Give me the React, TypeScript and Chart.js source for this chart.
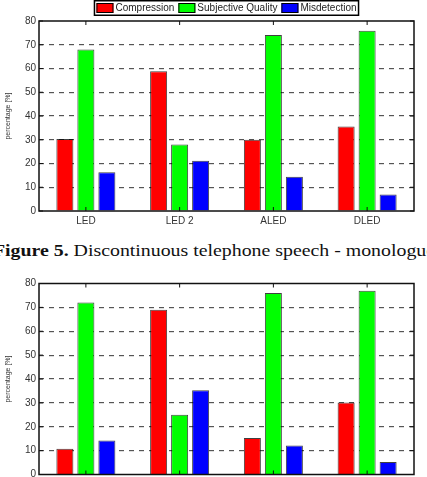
import React, { useEffect, useRef } from "react";
import { Chart, registerables } from "chart.js";

Chart.register(...registerables);

const categories = ["LED", "LED 2", "ALED", "DLED"];
const seriesNames = ["Compression", "Subjective Quality", "Misdetection"];
const seriesColors = ["#ff0000", "#00ff00", "#0000ff"];

const topCompression = [30.3, 58.8, 30.0, 35.6];
const topQuality = [68, 28, 74.1, 75.9];
const topMisdetection = [16.3, 21.2, 14.4, 7.0];

const bottomCompression = [10.8, 69, 15.3, 30.2];
const bottomQuality = [72, 25, 76, 77];
const bottomMisdetection = [14.2, 35.3, 12.1, 5.2];

const yTicks = [0, 10, 20, 30, 40, 50, 60, 70, 80];
const yTitle = "percentage [%]";
const captionBold = "Figure 5.";
const captionText = " Discontinuous telephone speech - monologue";

const framePlugin = {
  id: "frame",
  afterDatasetsDraw(chart: any) {
    const { ctx, chartArea: a, scales } = chart;
    ctx.save();
    ctx.strokeStyle = "#111";
    ctx.lineWidth = 1.5;
    ctx.strokeRect(a.left, a.top, a.right - a.left, a.bottom - a.top);
    ctx.lineWidth = 1;
    ctx.beginPath();
    yTicks.forEach((v) => {
      const y = scales.y.getPixelForValue(v);
      ctx.moveTo(a.left, y);
      ctx.lineTo(a.left + 4, y);
      ctx.moveTo(a.right, y);
      ctx.lineTo(a.right - 4, y);
    });
    categories.forEach((_, i) => {
      const x = scales.x.getPixelForValue(i);
      ctx.moveTo(x, a.top);
      ctx.lineTo(x, a.top + 4);
      ctx.moveTo(x, a.bottom);
      ctx.lineTo(x, a.bottom - 4);
    });
    ctx.stroke();
    ctx.restore();
  },
};

const legendPlugin = {
  id: "boxLegend",
  afterDraw(chart: any, _args: any, opts: any) {
    if (!opts || !opts.display) return;
    const ctx = chart.ctx;
    const a = chart.chartArea;
    ctx.save();
    ctx.font = '10px "Liberation Sans", Arial, sans-serif';
    const boxW = 17;
    const boxH = 10;
    const gap = 2;
    const itemGap = 4;
    const pad = 2;
    const items = chart.data.datasets.map((d: any) => ({
      label: d.label,
      color: d.backgroundColor,
      w: ctx.measureText(d.label).width,
    }));
    const total =
      items.reduce((s: number, it: any) => s + boxW + gap + it.w, 0) +
      itemGap * (items.length - 1) +
      pad * 2;
    let x = (a.left + a.right) / 2 - total / 2;
    ctx.fillStyle = "#fff";
    ctx.fillRect(x, 0.75, total, 14.5);
    ctx.strokeStyle = "#000";
    ctx.lineWidth = 1.5;
    ctx.strokeRect(x, 0.75, total, 14.5);
    x += pad;
    items.forEach((it: any) => {
      ctx.fillStyle = it.color;
      ctx.fillRect(x, 3, boxW, boxH);
      ctx.strokeStyle = "#000";
      ctx.lineWidth = 1;
      ctx.strokeRect(x + 0.5, 3.5, boxW - 1, boxH - 1);
      ctx.fillStyle = "#222";
      ctx.textBaseline = "middle";
      ctx.textAlign = "left";
      ctx.fillText(it.label, x + boxW + gap, 8.5);
      x += boxW + gap + it.w + itemGap;
    });
    ctx.restore();
  },
};

type Props = {
  top: number;
  height: number;
  plotTop: number;
  plotBottom: number;
  values: number[][];
  showLegend: boolean;
};

function BarChart({ top, height, plotTop, plotBottom, values, showLegend }: Props) {
  const ref = useRef<HTMLCanvasElement>(null);
  useEffect(() => {
    const chart = new Chart(ref.current as HTMLCanvasElement, {
      type: "bar",
      data: {
        labels: categories,
        datasets: seriesNames.map((n, i) => ({
          label: n,
          data: values[i],
          backgroundColor: seriesColors[i],
          borderColor: "rgba(0,0,0,0.75)",
          borderWidth: 1,
          categoryPercentage: 0.672,
          barPercentage: 0.81,
        })),
      },
      options: {
        responsive: false,
        animation: false,
        devicePixelRatio: 1,
        layout: { padding: { top: plotTop, right: 13, left: 0, bottom: 0 } },
        plugins: {
          legend: { display: false },
          tooltip: { enabled: false },
          boxLegend: { display: showLegend },
        } as any,
        scales: {
          x: {
            grid: { display: false, drawTicks: false },
            border: { display: false },
            ticks: {
              font: { family: "'Liberation Sans', Arial, sans-serif", size: 10 },
              color: "#333",
              padding: 4,
            },
            afterFit: (s: any) => {
              s.height = height - plotBottom;
            },
          },
          y: {
            min: 0,
            max: 80,
            ticks: {
              stepSize: 10,
              font: { family: "'Liberation Sans', Arial, sans-serif", size: 10 },
              color: "#333",
              padding: 3,
            },
            grid: {
              drawTicks: false,
              color: (c: any) =>
                c.tick && (c.tick.value === 0 || c.tick.value === 80) ? "rgba(0,0,0,0)" : "#555",
              lineWidth: 1.2,
            },
            border: { display: false, dash: [5, 5] },
            title: {
              display: true,
              text: yTitle,
              font: { family: "'Liberation Sans', Arial, sans-serif", size: 7 },
              color: "#333",
              padding: { top: 4, bottom: 0 },
            },
            afterFit: (s: any) => {
              s.width = 39;
            },
          },
        },
      } as any,
      plugins: [framePlugin, legendPlugin],
    });
    return () => chart.destroy();
  }, []);
  return (
    <canvas
      ref={ref}
      width={427}
      height={height}
      style={{ position: "absolute", left: 0, top, width: 427, height }}
    />
  );
}

export default function App() {
  return (
    <div
      style={{
        position: "fixed",
        left: 0,
        top: 0,
        width: 427,
        height: 477,
        overflow: "hidden",
        background: "#fff",
      }}
    >
      <BarChart
        top={0}
        height={232}
        plotTop={21}
        plotBottom={211}
        values={[topCompression, topQuality, topMisdetection]}
        showLegend={true}
      />
      <div
        style={{
          position: "absolute",
          left: 214,
          top: 243,
          transform: "translateX(-50%) scaleX(1.24)",
          whiteSpace: "nowrap",
          fontFamily: "'Liberation Serif', 'Times New Roman', serif",
          fontSize: 16,
          lineHeight: "16px",
          color: "#111",
        }}
      >
        <b>{captionBold}</b>
        {captionText}
      </div>
      <BarChart
        top={262}
        height={232}
        plotTop={21.5}
        plotBottom={212.5}
        values={[bottomCompression, bottomQuality, bottomMisdetection]}
        showLegend={false}
      />
    </div>
  );
}
